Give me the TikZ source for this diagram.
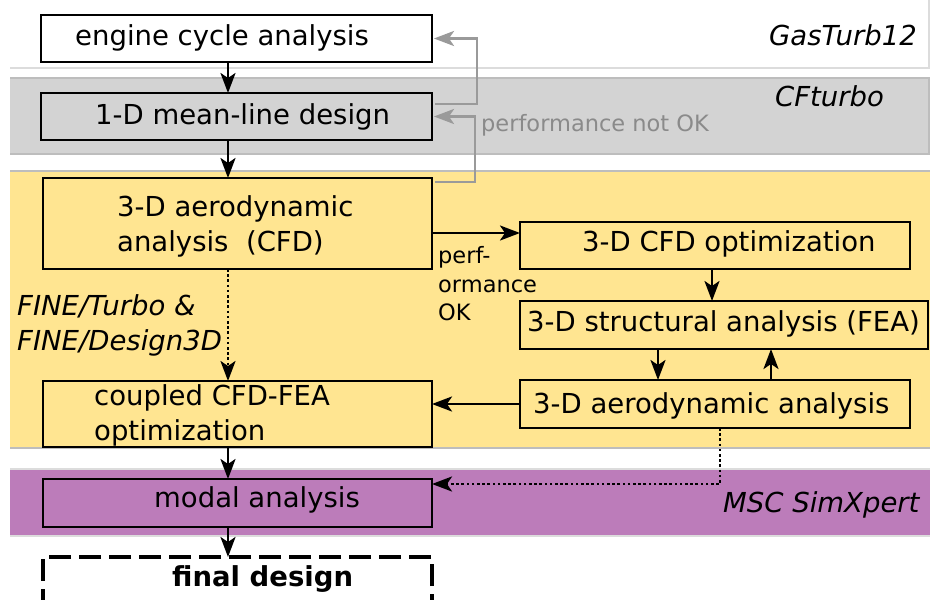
\documentclass[tikz,border=0pt]{standalone}
\usepackage{fontspec}
\setmainfont{DejaVu Sans}
\usetikzlibrary{arrows.meta}
\definecolor{bandgray}{HTML}{D3D3D3}
\definecolor{bandyellow}{HTML}{FFE591}
\definecolor{bandpurple}{HTML}{BC7CBA}
\definecolor{bandline}{HTML}{BDBDBD}
\definecolor{bandlight}{HTML}{DCDCDC}
\definecolor{fbgray}{HTML}{9A9A9A}
\definecolor{fbtext}{HTML}{8A8A8A}
\begin{document}
\begin{tikzpicture}[x=1pt,y=-1pt,
  box/.style={draw=black, line width=2.2pt, anchor=north west, inner sep=0pt, outer sep=0pt},
  txt/.style={anchor=base west, inner sep=0pt, font=\fontsize{27.5}{33}\selectfont},
  tool/.style={anchor=base west, inner sep=0pt, font=\fontsize{27.5}{33}\selectfont\itshape},
  small/.style={anchor=base west, inner sep=0pt, font=\fontsize{22.5}{27}\selectfont},
  arr/.style={line width=2.6pt, -{Stealth[length=20pt,width=15pt,inset=5pt]}},
  dotarr/.style={arr, dash pattern=on 2.6pt off 2.6pt},
  fbarr/.style={draw=fbgray, line width=2.6pt, -{Stealth[length=20pt,width=15pt,inset=5pt]}},
]
\useasboundingbox (0,0) rectangle (930,600);
\clip (0,0) rectangle (930,600);
\fill[white] (0,0) rectangle (930,600);
% bands
\draw[bandlight, line width=2.5pt] (10,68) -- (929,68) -- (929,-5);
\fill[bandgray] (10,78) rectangle (929,154);
\draw[bandline, line width=2.5pt] (10,78) -- (929,78) -- (929,154) -- (10,154);
\fill[bandyellow] (10,171) rectangle (935,448);
\draw[bandline, line width=2.5pt] (10,171) -- (935,171) (10,448) -- (935,448);
\fill[bandpurple] (10,469) rectangle (935,536);
\draw[bandlight, line width=2.5pt] (10,469) -- (935,469) (10,536) -- (935,536);
% tool labels
\node[tool, anchor=base east] (gt) at (917,45) {GasTurb12};
\node[tool] (cft) at (775,106) {CFturbo};
\node[tool] (msc) at (723,512) {MSC SimXpert};
\node[tool] (fine1) at (17,315) {FINE/Turbo \&};
\node[tool] (fine2) at (17,350) {FINE/Design3D};
% boxes
\node[box, fill=white, minimum width=391pt, minimum height=47pt] (eng) at (41,15) {};
\node[box, minimum width=391pt, minimum height=47pt] (mld) at (41,93) {};
\node[box, minimum width=389pt, minimum height=91pt] (a3d) at (43,178) {};
\node[box, minimum width=390pt, minimum height=47pt] (opt) at (520,222) {};
\node[box, minimum width=408pt, minimum height=48pt] (fea) at (520,301) {};
\node[box, minimum width=390pt, minimum height=48pt] (aero) at (520,380) {};
\node[box, minimum width=389pt, minimum height=66pt] (cpl) at (43,381) {};
\node[box, minimum width=389pt, minimum height=48pt] (modal) at (43,479) {};
\node[box, dash pattern=on 22pt off 8pt, line width=3.2pt, minimum width=389pt, minimum height=90pt] (final) at (43,557) {};
% box texts
\node[txt] (t1) at (75,45) {engine cycle analysis};
\node[txt] (t2) at (95,124) {1-D mean-line design};
\node[txt] (t3a) at (117,216) {3-D aerodynamic};
\node[txt] (t3b) at (117,251) {analysis\ \ (CFD)};
\node[txt] (t4) at (582,251) {3-D CFD optimization};
\node[txt] (t5) at (527,331) {3-D structural analysis (FEA)};
\node[txt] (t6) at (533,413) {3-D aerodynamic analysis};
\node[txt] (t7a) at (94,405) {coupled CFD-FEA};
\node[txt] (t7b) at (94,440) {optimization};
\node[txt] (t8) at (154,507) {modal analysis};
\node[txt, font=\fontsize{27.5}{33}\selectfont\bfseries] (t9) at (172,586) {final design};
\node[small] (p1) at (438,263) {perf-};
\node[small] (p2) at (438,292) {ormance};
\node[small] (p3) at (438,320) {OK};
\node[small, text=fbtext] (pn) at (481,131) {performance not OK};
% helper coordinates
\coordinate (xa) at (228,0);
\coordinate (xb) at (712,0);
\coordinate (xc) at (658,0);
\coordinate (xd) at (771,0);
\coordinate (xe) at (720,0);
\coordinate (ya) at (0,233);
\coordinate (yb) at (0,484);
\coordinate (g1) at (477,104);
\coordinate (g2) at (475,182);
\coordinate (d1) at (720,484);
% main flow
\draw[arr] (eng.south -| xa) -- (mld.north -| xa);
\draw[arr] (mld.south -| xa) -- (a3d.north -| xa);
\draw[dotarr] (a3d.south -| xa) -- (cpl.north -| xa);
\draw[arr] (cpl.south -| xa) -- (modal.north -| xa);
\draw[arr] (modal.south -| xa) -- (final.north -| xa);
\draw[arr] (a3d.east |- ya) -- (opt.west |- ya);
\draw[arr] (opt.south -| xb) -- (fea.north -| xb);
\draw[arr] (fea.south -| xc) -- (aero.north -| xc);
\draw[arr] (aero.north -| xd) -- (fea.south -| xd);
\draw[arr] (aero.west) -- (cpl.east |- aero.west);
\draw[dotarr] (aero.south -| xe) -- (d1) -- (modal.east |- yb);
% feedback
\draw[fbarr] ([xshift=3pt]mld.east |- g1) -- (g1) |- ([xshift=2pt]eng.east);
\draw[fbarr] ([xshift=3pt]a3d.east |- g2) -- (g2) |- ([xshift=2pt]mld.east);
\end{tikzpicture}
\end{document}
